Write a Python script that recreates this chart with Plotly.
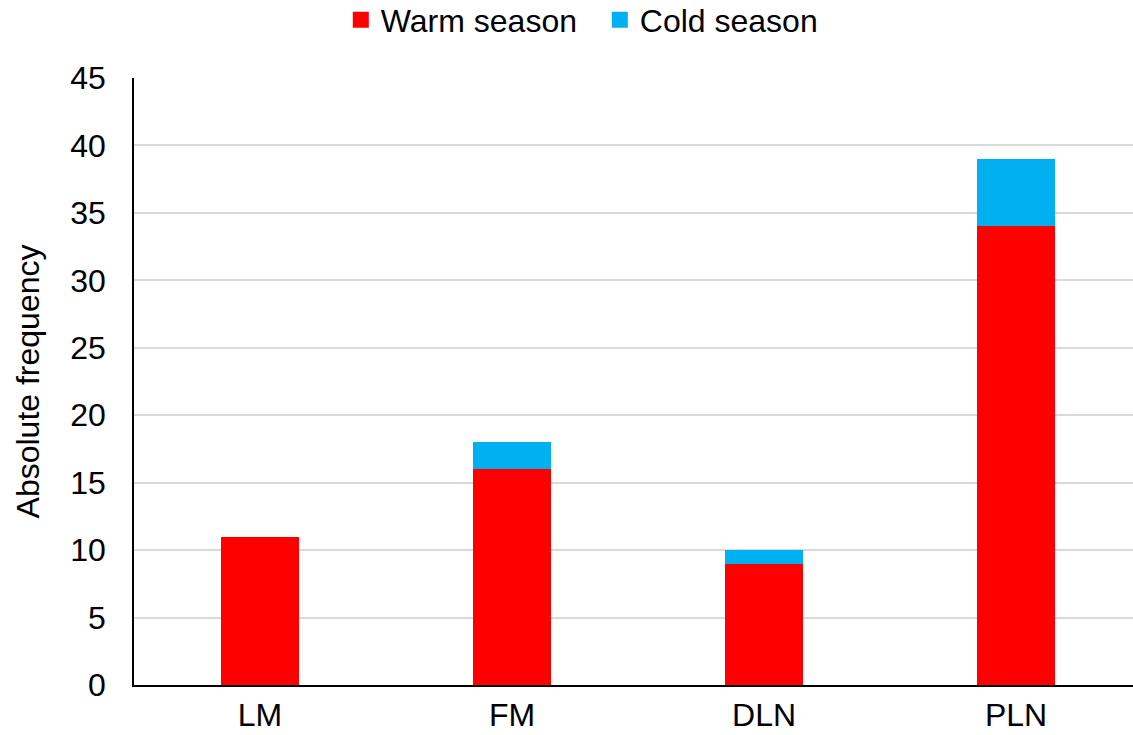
import plotly.graph_objects as go

# Cyclone counts per category, split by season
categories = ["LM", "FM", "DLN", "PLN"]
warm_season = [11, 16, 9, 34]
cold_season = [0, 2, 1, 5]
y_ticks = [0, 5, 10, 15, 20, 25, 30, 35, 40, 45]

series_names = ["Warm season", "Cold season"]
series_colors = ["#FF0000", "#00B0F0"]

FONT = "Liberation Sans, Arial, sans-serif"
FS = 32

fig = go.Figure()
for name, values, color in zip(series_names, [warm_season, cold_season], series_colors):
    fig.add_trace(go.Bar(
        x=categories, y=values, name=name,
        marker=dict(color=color, line=dict(width=0)),
        showlegend=False, legendgroup=name,
    ))

# Legend entries with larger square swatches
for name, color in zip(series_names, series_colors):
    fig.add_trace(go.Scatter(
        x=[None], y=[None], mode="markers", name=name,
        marker=dict(symbol="square", size=17, color=color, line=dict(width=0)),
        legendgroup=name, showlegend=True,
    ))

fig.update_layout(
    barmode="stack",
    bargap=0.69,
    width=1133, height=735,
    margin=dict(l=134, r=0, t=78, b=50, autoexpand=False),
    paper_bgcolor="white",
    plot_bgcolor="white",
    font=dict(family=FONT, size=FS, color="#000000"),
    showlegend=True,
    legend=dict(
        orientation="h",
        x=0.207, xanchor="left",
        y=1.0956, yanchor="middle",
        font=dict(size=FS),
        traceorder="normal",
        entrywidth=214, entrywidthmode="pixels",
        tracegroupgap=0,
    ),
)

fig.update_xaxes(
    range=[-0.5, 3.464],
    showline=True, linecolor="#000000", linewidth=1.5,
    showgrid=False, ticks="",
    ticklabelstandoff=1,
    tickfont=dict(size=FS),
)
fig.update_yaxes(
    range=[0, 45],
    tickvals=y_ticks,
    showline=True, linecolor="#000000", linewidth=1.5,
    showgrid=True, gridcolor="#D9D9D9", gridwidth=1.5,
    zeroline=False, ticks="",
    ticklabelstandoff=20,
    tickfont=dict(size=FS),
    title=dict(text="Absolute frequency", font=dict(size=FS), standoff=21),
)

fig.write_html("out.html")
